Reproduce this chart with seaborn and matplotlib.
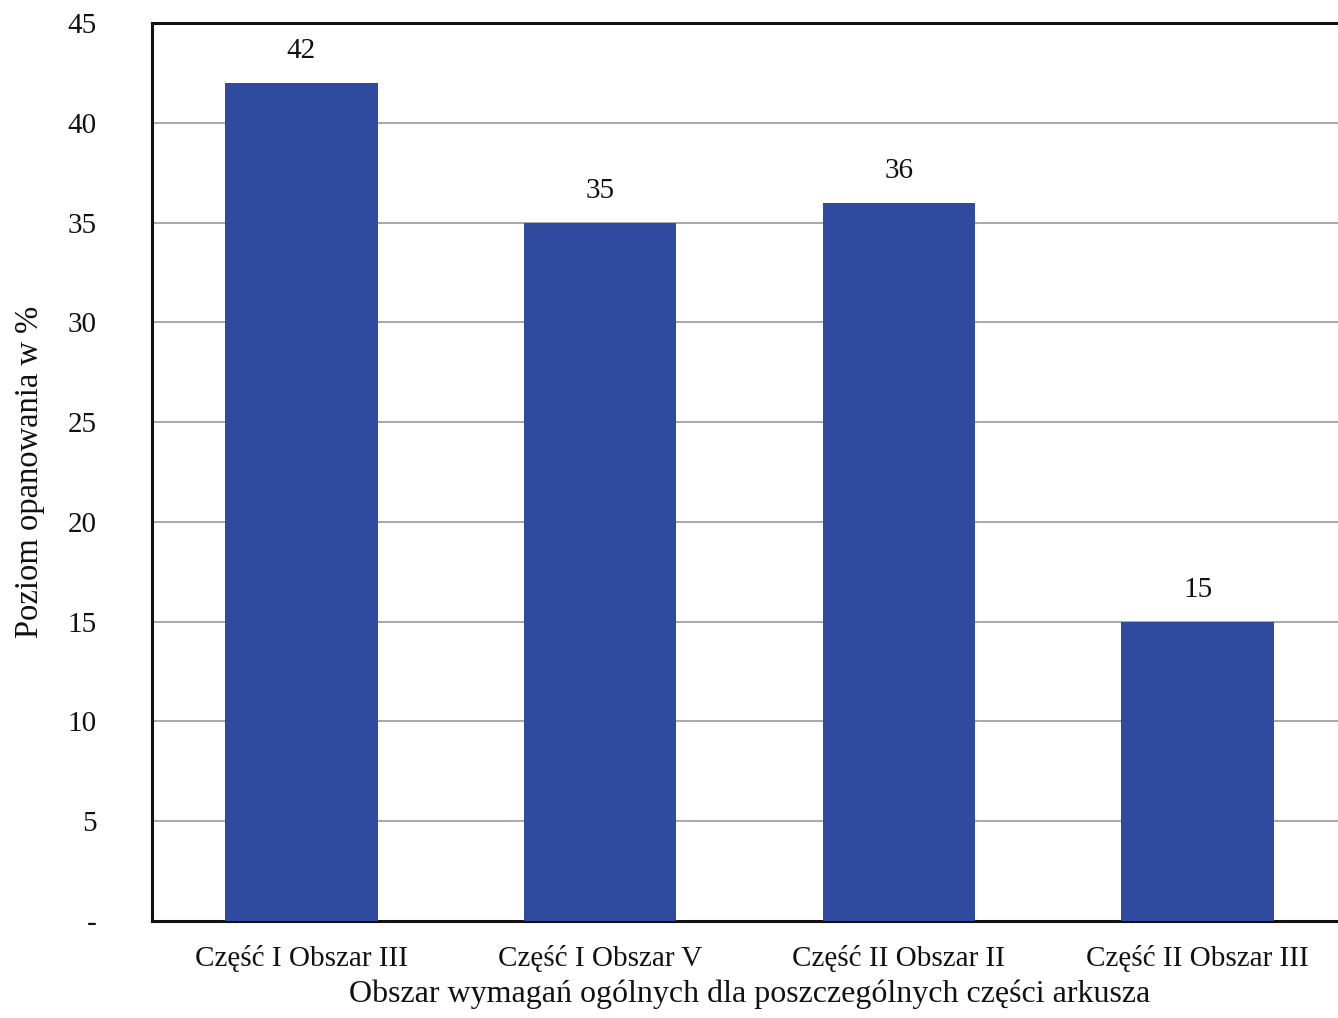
import seaborn as sns
import matplotlib.pyplot as plt
import pandas as pd

categories = ["Część I Obszar III", "Część I Obszar V", "Część II Obszar II", "Część II Obszar III"]
values = [42, 35, 36, 15]
y_ticks = [0, 5, 10, 15, 20, 25, 30, 35, 40, 45]
y_tick_labels = ["-", "5", "10", "15", "20", "25", "30", "35", "40", "45"]

sns.set_theme(style="white")
plt.rcParams['font.family'] = ['Liberation Serif', 'DejaVu Serif']

df = pd.DataFrame({"obszar": categories, "poziom": values})

fig = plt.figure(figsize=(13.38, 10.18), dpi=100)
# right edge of the plot runs past the picture, as in the reference
ax = fig.add_axes([152 / 1338, 1 - 921 / 1018, 1195 / 1338, 898 / 1018])

sns.barplot(data=df, x="obszar", y="poziom", color="#2F4A9E", saturation=1,
            width=0.51, linewidth=0, edgecolor="none", ax=ax, zorder=3)

ax.set_ylim(0, 45)
ax.set_xlim(-0.5, 3.5)
ax.set_yticks(y_ticks)
ax.set_yticklabels(y_tick_labels)
ax.yaxis.grid(True, color="#9a9a9a", linewidth=1.2, zorder=0)
ax.set_axisbelow(True)
ax.tick_params(axis="both", length=0, labelsize=21, colors="#111111")
ax.tick_params(axis="y", pad=40)
ax.tick_params(axis="x", pad=17)

for s in ["left", "bottom", "top"]:
    ax.spines[s].set_color("#111111")
    ax.spines[s].set_linewidth(2.2)
ax.spines["right"].set_visible(False)

for i, v in enumerate(values):
    ax.text(i, v + 0.95, str(v), ha="center", va="bottom", fontsize=21, color="#111111")

ax.set_xlabel("Obszar wymagań ogólnych dla poszczególnych części arkusza", fontsize=23, labelpad=6, color="#111111")
ax.set_ylabel("Poziom opanowania w %", fontsize=23.5, labelpad=16, color="#111111")

fig.savefig("out.png", dpi=100)
